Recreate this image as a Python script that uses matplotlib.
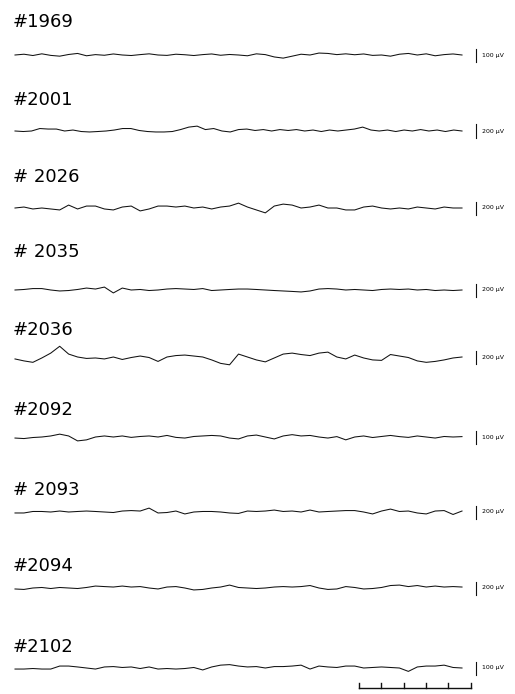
import numpy as np
import matplotlib
matplotlib.use("Agg")
import matplotlib.pyplot as plt

# unit labels and channel names
channel_ids = ["#1969", "#2001", "# 2026", "# 2035", "#2036", "#2092", "# 2093", "#2094", "#2102"]
scale_uv = [100, 200, 200, 200, 200, 100, 200, 200, 100]

# traces in uV (20 s each)
ch_1969 = [0, 6, -4, 9, -3, -9, 4, 12, -6, 3, -2, 8, 0, -4, 3, 9, 0, -3, 6, 2, -4, 3, 8, -2, 4, 0,
           -6, 9, 3, -15, -24, -9, 6, 0, 15, 12, 3, 9, 2, 8, -3, 0, -9, 6, 12, 0, 9, -6, 3, 8, 0]
ch_2001 = [0, -8, 0, 38, 30, 30, 0, 15, -8, -15, -8, 0, 15, 38, 38, 8, -8, -15, -15, -8, 22, 60, 75,
           22, 38, 0, -15, 22, 30, 8, 22, 0, 22, 8, 22, 0, 15, -8, 15, 0, 15, 30, 60, 15, 0, 15, -8,
           15, 0, 22, 0, 15, -8, 15, 0]
ch_2026 = [0, 15, -15, 0, -15, -30, 45, -15, 30, 30, -15, -30, 15, 30, -45, -15, 30, 30, 15, 30, 0,
           15, -15, 15, 30, 75, 15, -30, -75, 30, 60, 45, 0, 15, 45, 0, 0, -30, -30, 15, 30, 0, -15,
           0, -15, 15, 0, -15, 15, 0, 0]
ch_2035 = [0, 8, 22, 22, 0, -15, -8, 8, 30, 15, 45, -45, 30, 0, 8, -8, 0, 15, 22, 15, 8, 22, -8, 0,
           8, 15, 15, 8, 0, -8, -15, -22, -30, -15, 15, 22, 15, 0, 8, 0, -8, 8, 15, 8, 15, 0, 8, -8,
           0, -8, 0]
ch_2036 = [-30, -60, -82, -15, 60, 165, 45, 0, -22, -15, -30, 0, -38, -8, 15, -8, -68, 0, 22, 30, 15,
           0, -45, -98, -120, 45, 0, -45, -75, -15, 45, 60, 38, 22, 60, 75, 0, -30, 30, -15, -45,
           -52, 38, 15, -8, -60, -82, -68, -45, -15, 0]
ch_2092 = [-8, -12, -4, 0, 8, 22, 8, -30, -22, 0, 8, 0, 8, -3, 4, 8, 0, 12, -3, -8, 4, 8, 12, 8, -8,
           -15, 8, 15, 0, -15, 8, 18, 8, 12, 0, -8, 3, -22, 0, 8, -4, 4, 12, 3, -3, 8, 0, -8, 4, 0, 3]
ch_2093 = [-15, -15, 8, 8, 0, 15, 0, 8, 15, 8, 0, -8, 15, 22, 15, 60, -15, -8, 15, -30, 0, 8, 8, 0,
           -15, -22, 15, 8, 15, 30, 8, 15, 0, 30, 0, 8, 15, 22, 22, 0, -30, 15, 45, 8, 15, -15, -30,
           15, 22, -38, 15]
ch_2094 = [-15, -22, 0, 8, -8, 8, 0, -8, 8, 30, 22, 15, 30, 15, 22, 0, -15, 15, 22, 0, -30, -22, 0,
           15, 45, 8, 0, -8, 0, 15, 22, 15, 22, 38, 0, -22, -15, 22, 8, -15, -8, 8, 38, 45, 22, 38,
           15, 30, 15, 22, 15]
ch_2102 = [-8, -8, -4, -8, -8, 15, 15, 8, 0, -8, 8, 11, 4, 8, -4, 8, -8, -4, -8, -4, 4, -15, 8, 22,
           26, 15, 8, 11, 0, 11, 11, 15, 22, -8, 15, 8, 4, 15, 15, 0, 4, 8, 4, 0, -26, 8, 15, 15, 22,
           4, 0]
traces = [ch_1969, ch_2001, ch_2026, ch_2035, ch_2036, ch_2092, ch_2093, ch_2094, ch_2102]

duration = 20      # s
time_bar_s = 5     # s, bottom scale bar

# layout (pixels)
W, H = 515, 694
x0_px, px_per_s = 15, 22.35
bar_px = 13
label_y = [22, 100, 177, 252, 330, 410, 490, 566, 647]
trace_y = [55, 131, 208, 290, 357, 437, 512, 588, 668]
half_px = 25

fig = plt.figure(figsize=(W / 100, H / 100), dpi=100)
xlim = (-x0_px / px_per_s, (W - x0_px) / px_per_s)
bar_t = (476 - x0_px) / px_per_s

for i, trace in enumerate(traces):
    gain = bar_px / scale_uv[i]          # px per uV
    half = half_px / gain
    ax = fig.add_axes([0, 1 - (trace_y[i] + half_px) / H, 1, 2 * half_px / H])
    ax.set_xlim(xlim)
    ax.set_ylim(-half, half)
    ax.axis("off")

    t = np.linspace(0, duration, len(trace))
    ax.plot(t, trace, color="#111111", lw=0.75)

    s = scale_uv[i]
    ax.plot([bar_t, bar_t], [-s / 2, s / 2], color="#111111", lw=0.8)
    ax.text(bar_t + 0.25, 0, f"{s} μV", fontsize=4.5, va="center", ha="left")

    fig.text(13 / W, 1 - label_y[i] / H, channel_ids[i], fontsize=13,
             va="center", ha="left")

# time scale bar under the last trace
tr = ax.get_xaxis_transform()
t_start = (359 - x0_px) / px_per_s
yb = (half_px * 2 - (688 - (trace_y[-1] - half_px))) / (2 * half_px)
ax.plot([t_start, t_start + time_bar_s], [yb, yb], color="#111111", lw=1.0,
        transform=tr, clip_on=False)
for k in range(time_bar_s + 1):
    ax.plot([t_start + k, t_start + k], [yb, yb + 0.1], color="#111111", lw=1.0,
            transform=tr, clip_on=False)

fig.savefig("out.png", dpi=100)
